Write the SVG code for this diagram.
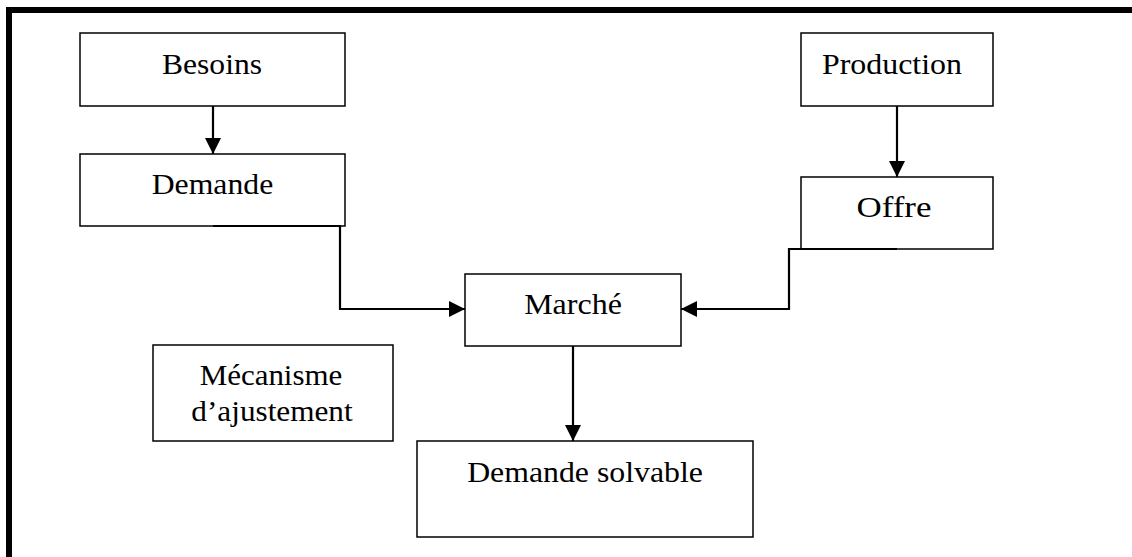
<svg xmlns="http://www.w3.org/2000/svg" width="1132" height="557" viewBox="0 0 1132 557">
<style>
.box{fill:#fff;stroke:#000;stroke-width:1.5}
.lbl{font-family:"Liberation Serif","Times New Roman",serif;font-size:30px;fill:#000;text-anchor:middle}
.con{fill:none;stroke:#000;stroke-width:2.2}
</style>
<defs>
<marker id="arr" markerUnits="userSpaceOnUse" markerWidth="16" markerHeight="16" refX="16" refY="8" orient="auto" viewBox="0 0 16 16">
<path d="M0,0 L16,8 L0,16 z" fill="#000"/>
</marker>
</defs>
<rect width="1132" height="557" fill="#fff"/>
<g id="frame">
<rect x="6" y="7" width="1126" height="6" fill="#000"/>
<rect x="6" y="7" width="6" height="550" fill="#000"/>
</g>
<g id="besoins">
<rect class="box" x="80" y="33" width="265" height="73"/>
<text class="lbl" x="212" y="74" textLength="100" lengthAdjust="spacingAndGlyphs">Besoins</text>
</g>
<g id="demande">
<rect class="box" x="80" y="154" width="265" height="72"/>
<text class="lbl" x="212.5" y="194" textLength="121.6" lengthAdjust="spacingAndGlyphs">Demande</text>
</g>
<g id="production">
<rect class="box" x="801" y="33" width="192" height="73"/>
<text class="lbl" x="892" y="74" textLength="140" lengthAdjust="spacingAndGlyphs">Production</text>
</g>
<g id="offre">
<rect class="box" x="801" y="177" width="192" height="72"/>
<text class="lbl" x="894" y="217" textLength="75" lengthAdjust="spacingAndGlyphs">Offre</text>
</g>
<g id="marche">
<rect class="box" x="465" y="274" width="216" height="72"/>
<text class="lbl" x="573" y="314" textLength="97.7" lengthAdjust="spacingAndGlyphs">Marché</text>
</g>
<g id="mecanisme">
<rect class="box" x="153" y="345" width="240" height="96"/>
<text class="lbl" x="271" y="385" textLength="142.7" lengthAdjust="spacingAndGlyphs">Mécanisme</text>
<text class="lbl" x="272" y="421" textLength="161.3" lengthAdjust="spacingAndGlyphs">d’ajustement</text>
</g>
<g id="demande-solvable">
<rect class="box" x="417" y="441" width="336" height="96"/>
<text class="lbl" x="585" y="481.5" textLength="235.7" lengthAdjust="spacingAndGlyphs">Demande solvable</text>
</g>
<g id="connectors">
<path class="con" d="M213,106 V154" marker-end="url(#arr)"/>
<path class="con" d="M897,106 V177" marker-end="url(#arr)"/>
<path class="con" d="M213,226 H340 V309 H465" marker-end="url(#arr)"/>
<path class="con" d="M897,249 H789 V309 H681" marker-end="url(#arr)"/>
<path class="con" d="M573,346 V441" marker-end="url(#arr)"/>
</g>
</svg>
